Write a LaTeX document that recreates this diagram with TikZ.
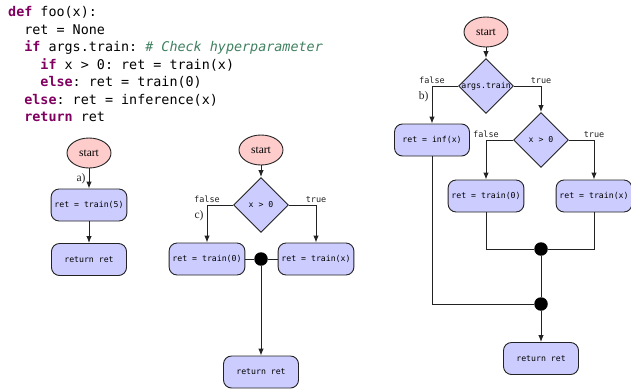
\documentclass[tikz,border=0pt]{standalone}
\usepackage{fontspec}
\setmainfont{Liberation Serif}
\setmonofont{DejaVu Sans Mono}
\usepackage{xcolor}
\definecolor{KeyPurple}{HTML}{800060}
\definecolor{CommentGreen}{HTML}{408060}
\definecolor{BoxBlue}{HTML}{CCCCFF}
\definecolor{StartPink}{HTML}{FFCCCC}
\definecolor{EdgeDark}{HTML}{222222}
\usepackage{tikz}
\usetikzlibrary{shapes.geometric, arrows.meta}
\newcommand{\codekw}[1]{\textcolor{KeyPurple}{\bfseries #1}}
\newcommand{\codecm}[1]{\textcolor{CommentGreen}{\itshape #1}}
\newcommand{\codeind}[1]{\phantom{#1}}

\begin{document}
\begin{tikzpicture}[
    x=1pt, y=-1pt,
    code/.style={anchor=base west, inner sep=0pt, font=\ttfamily\fontsize{13.4}{16}\selectfont},
    box/.style={draw=EdgeDark, fill=BoxBlue, rounded corners=8pt, line width=0.9pt,
                minimum width=75pt, minimum height=32pt, align=center,
                font=\ttfamily\fontsize{8.2}{9.8}\selectfont},
    startnode/.style={draw=EdgeDark, fill=StartPink, ellipse, line width=0.9pt, inner sep=0pt,
                      minimum width=44pt, minimum height=30pt, font=\fontsize{11.5}{13}\selectfont},
    decision/.style={draw=EdgeDark, fill=BoxBlue, diamond, line width=0.9pt, inner sep=0pt,
                     minimum width=55pt, minimum height=55pt},
    dtext/.style={font=\ttfamily\fontsize{8.2}{9.8}\selectfont, inner sep=0pt},
    joint/.style={circle, fill=black, inner sep=0pt, minimum size=13.5pt},
    arr/.style={-{Latex[length=7pt, width=5.5pt]}, line width=1pt, color=EdgeDark},
    line/.style={line width=1pt, color=EdgeDark},
    branch/.style={font=\ttfamily\fontsize{8.5}{10}\selectfont, inner sep=2pt},
    tag/.style={font=\fontsize{11.5}{13}\selectfont, inner sep=3pt}
  ]
    \useasboundingbox (0,0) rectangle (631,389);

    % source code
    \node[code] (code1) at (8,16.5) {\codekw{def} foo(x):};
    \node[code] (code2) at (8,34) {\codeind{xx}ret = None};
    \node[code] (code3) at (8,51.5) {\codeind{xx}\codekw{if} args.train: \codecm{\# Check hyperparameter}};
    \node[code] (code4) at (8,69) {\codeind{xxxx}\codekw{if} x > 0: ret = train(x)};
    \node[code] (code5) at (8,86.5) {\codeind{xxxx}\codekw{else}: ret = train(0)};
    \node[code] (code6) at (8,104) {\codeind{xx}\codekw{else}: ret = inference(x)};
    \node[code] (code7) at (8,121.5) {\codeind{xx}\codekw{return} ret};

    % a) constant argument
    \node[startnode] (startA) at (89,153) {start};
    \node[box] (trainA) at (89,205) {ret = train(5)};
    \node[box] (retA) at (89,259.5) {return ret};
    \draw[arr] (startA) -- node[tag, left] {a)} (trainA);
    \draw[arr] (trainA) -- (retA);

    % c) one branch
    \node[startnode] (startC) at (261,150) {start};
    \node[decision, label={[dtext, name=condC]center:x > 0}] (decC) at (261,205) {};
    \node[box] (trainC0) at (207,259) {ret = train(0)};
    \node[box] (trainCx) at (316,259) {ret = train(x)};
    \node[joint] (dotC) at (261,259) {};
    \node[box] (retC) at (261,372) {return ret};
    \draw[arr] (startC) -- (decC);
    \draw[arr] (decC.west) -| node[branch, pos=0.5, above] {false}
                              node[tag, pos=0.645, left] {c)} (trainC0);
    \draw[arr] (decC.east) -| node[branch, pos=0.5, above] {true} (trainCx);
    \draw[line] (trainC0) -- (dotC) -- (trainCx);
    \draw[arr] (dotC) -- (retC);

    % b) nested branches
    \node[startnode] (startB) at (486,32) {start};
    \node[decision, label={[dtext, name=condB]center:args.train}] (decB) at (486,86) {};
    \node[box] (infB) at (432,140) {ret = inf(x)};
    \node[decision, label={[dtext, name=condB2]center:x > 0}] (decB2) at (541,140) {};
    \node[box] (trainB0) at (486,196) {ret = train(0)};
    \node[box] (trainBx) at (594,196) {ret = train(x)};
    \node[joint] (dotB1) at (541,249) {};
    \node[joint] (dotB2) at (541,304) {};
    \node[box] (retB) at (541,358.5) {return ret};
    \draw[arr] (startB) -- (decB);
    \draw[arr] (decB.west) -| node[branch, pos=0.5, above] {false}
                              node[tag, pos=0.645, left] {b)} (infB);
    \draw[arr] (decB.east) -| node[branch, pos=0.5, above] {true} (decB2);
    \draw[arr] (decB2.west) -| node[branch, pos=0.5, above] {false} (trainB0);
    \draw[arr] (decB2.east) -| node[branch, pos=0.5, above] {true} (trainBx);
    \draw[line] (trainB0) |- (dotB1);
    \draw[line] (trainBx) |- (dotB1);
    \draw[line] (dotB1) -- (dotB2);
    \draw[line] (infB) |- (dotB2);
    \draw[arr] (dotB2) -- (retB);
\end{tikzpicture}
\end{document}
